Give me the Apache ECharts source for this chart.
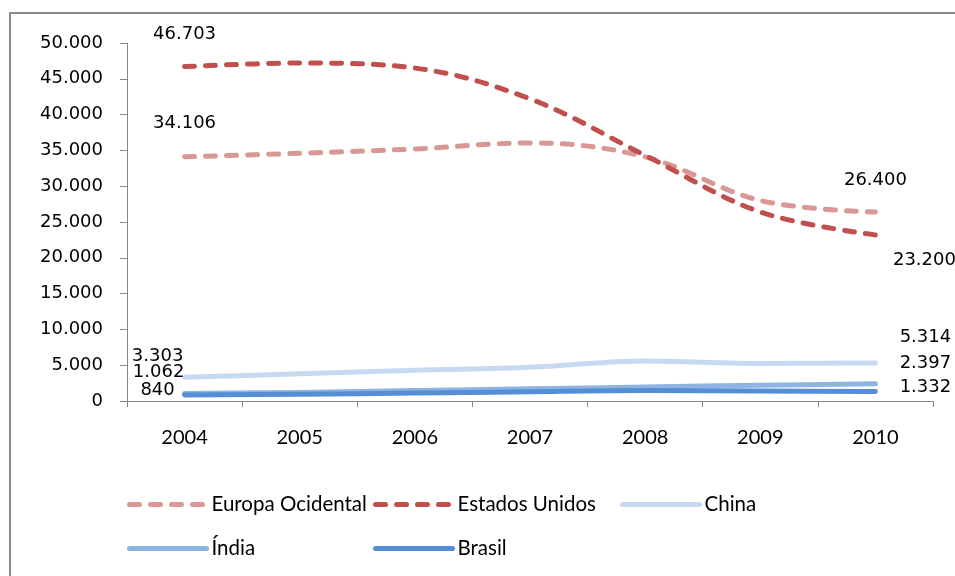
<!DOCTYPE html>
<html>
<head>
<meta charset="utf-8">
<script src="https://cdn.jsdelivr.net/npm/echarts@6/dist/echarts.min.js"></script>
<style>
  html, body { margin: 0; padding: 0; background: #fff; }
  #chart { width: 955px; height: 576px; }
</style>
</head>
<body>
<div id="chart"></div>
<script>
// Years on the category axis
const years = ['2004', '2005', '2006', '2007', '2008', '2009', '2010'];

// Series values
const europaOcidental = [34106, 34600, 35200, 36050, 34100, 28000, 26400];
const estadosUnidos   = [46703, 47200, 46500, 42200, 34300, 26400, 23200];
const china           = [3303, 3800, 4300, 4700, 5600, 5250, 5314];
const india           = [1062, 1200, 1450, 1700, 1950, 2200, 2397];
const brasil          = [840, 950, 1100, 1300, 1450, 1400, 1332];

// Value axis ticks
const yMin = 0, yMax = 50000, yStep = 5000;

// Thousands separator "." (pt-BR)
function fmt(v) {
  return String(Math.round(v)).replace(/\B(?=(\d{3})+(?!\d))/g, '.');
}

const labelFont = { fontFamily: 'DejaVu Sans', fontSize: 18, color: '#000' };
const narrowFont = { fontFamily: 'Lato', fontSize: 20.5, color: '#000' };

// Only the first and last points carry a value label
function withEndLabels(values, firstOffset, lastOffset) {
  return values.map(function (v, i) {
    const item = { value: v };
    if (i === 0 || i === values.length - 1) {
      item.label = Object.assign({
        show: true,
        position: 'inside',
        align: 'center',
        verticalAlign: 'middle',
        offset: i === 0 ? firstOffset : lastOffset,
        formatter: function (p) { return fmt(p.value); }
      }, labelFont);
    }
    return item;
  });
}

function lineSeries(name, values, color, dashed, firstOffset, lastOffset) {
  return {
    name: name,
    type: 'line',
    smooth: 0.35,
    symbol: 'circle',
    symbolSize: 1,
    showSymbol: true,
    itemStyle: { color: 'rgba(0,0,0,0)' },
    lineStyle: {
      color: color,
      width: 5,
      type: dashed ? [10, 11] : 'solid',
      cap: 'round',
      join: 'round'
    },
    emphasis: { disabled: true },
    label: { show: false },
    data: withEndLabels(values, firstOffset, lastOffset)
  };
}

const colors = {
  europa: '#D99795',
  eua: '#C0504D',
  china: '#C6D9F1',
  india: '#8DB4E2',
  brasil: '#558ED5'
};

function legendAt(name, left, top) {
  return {
    data: [name],
    left: left,
    top: top,
    orient: 'horizontal',
    padding: 0,
    itemWidth: 77,
    itemHeight: 14,
    itemGap: 0,
    selectedMode: false,
    lineStyle: { width: 5, cap: 'round' },
    textStyle: Object.assign({ padding: [0, 0, 0, 0] }, narrowFont)
  };
}

const chart = echarts.init(document.getElementById('chart'), null, { renderer: 'canvas' });

chart.setOption({
  animation: false,
  backgroundColor: '#fff',
  grid: { left: 127, right: 22, top: 43, bottom: 175, containLabel: false },
  xAxis: {
    type: 'category',
    data: years,
    boundaryGap: true,
    axisLine: { lineStyle: { color: '#868686', width: 1 } },
    axisTick: { show: true, length: 6, lineStyle: { color: '#868686' } },
    axisLabel: Object.assign({ margin: 27 }, narrowFont, { fontSize: 20 }),
    splitLine: { show: false }
  },
  yAxis: {
    type: 'value',
    min: yMin,
    max: yMax,
    interval: yStep,
    axisLine: { show: true, lineStyle: { color: '#868686', width: 1 } },
    axisTick: { show: true, length: 7, lineStyle: { color: '#868686' } },
    axisLabel: Object.assign({ margin: 24, formatter: fmt }, labelFont),
    splitLine: { show: false }
  },
  legend: [
    legendAt('Europa Ocidental', 127, 494),
    legendAt('Estados Unidos', 373, 494),
    legendAt('China', 620, 494),
    legendAt('Índia', 127, 538),
    legendAt('Brasil', 373, 538)
  ],
  graphic: [{
    type: 'rect',
    shape: { x: 10, y: 13, width: 980, height: 620 },
    style: { fill: 'none', stroke: '#8a8a8a', lineWidth: 2 },
    silent: true
  }],
  series: [
    lineSeries('Europa Ocidental', europaOcidental, colors.europa, true, [0, -33], [0, -32]),
    lineSeries('Estados Unidos', estadosUnidos, colors.eua, true, [0, -32], [49, 25]),
    lineSeries('China', china, colors.china, false, [-27, -21], [50, -26]),
    lineSeries('Índia', india, colors.india, false, [-26, -21], [50, -21]),
    lineSeries('Brasil', brasil, colors.brasil, false, [-27, -5], [50, -4])
  ]
});
</script>
</body>
</html>
